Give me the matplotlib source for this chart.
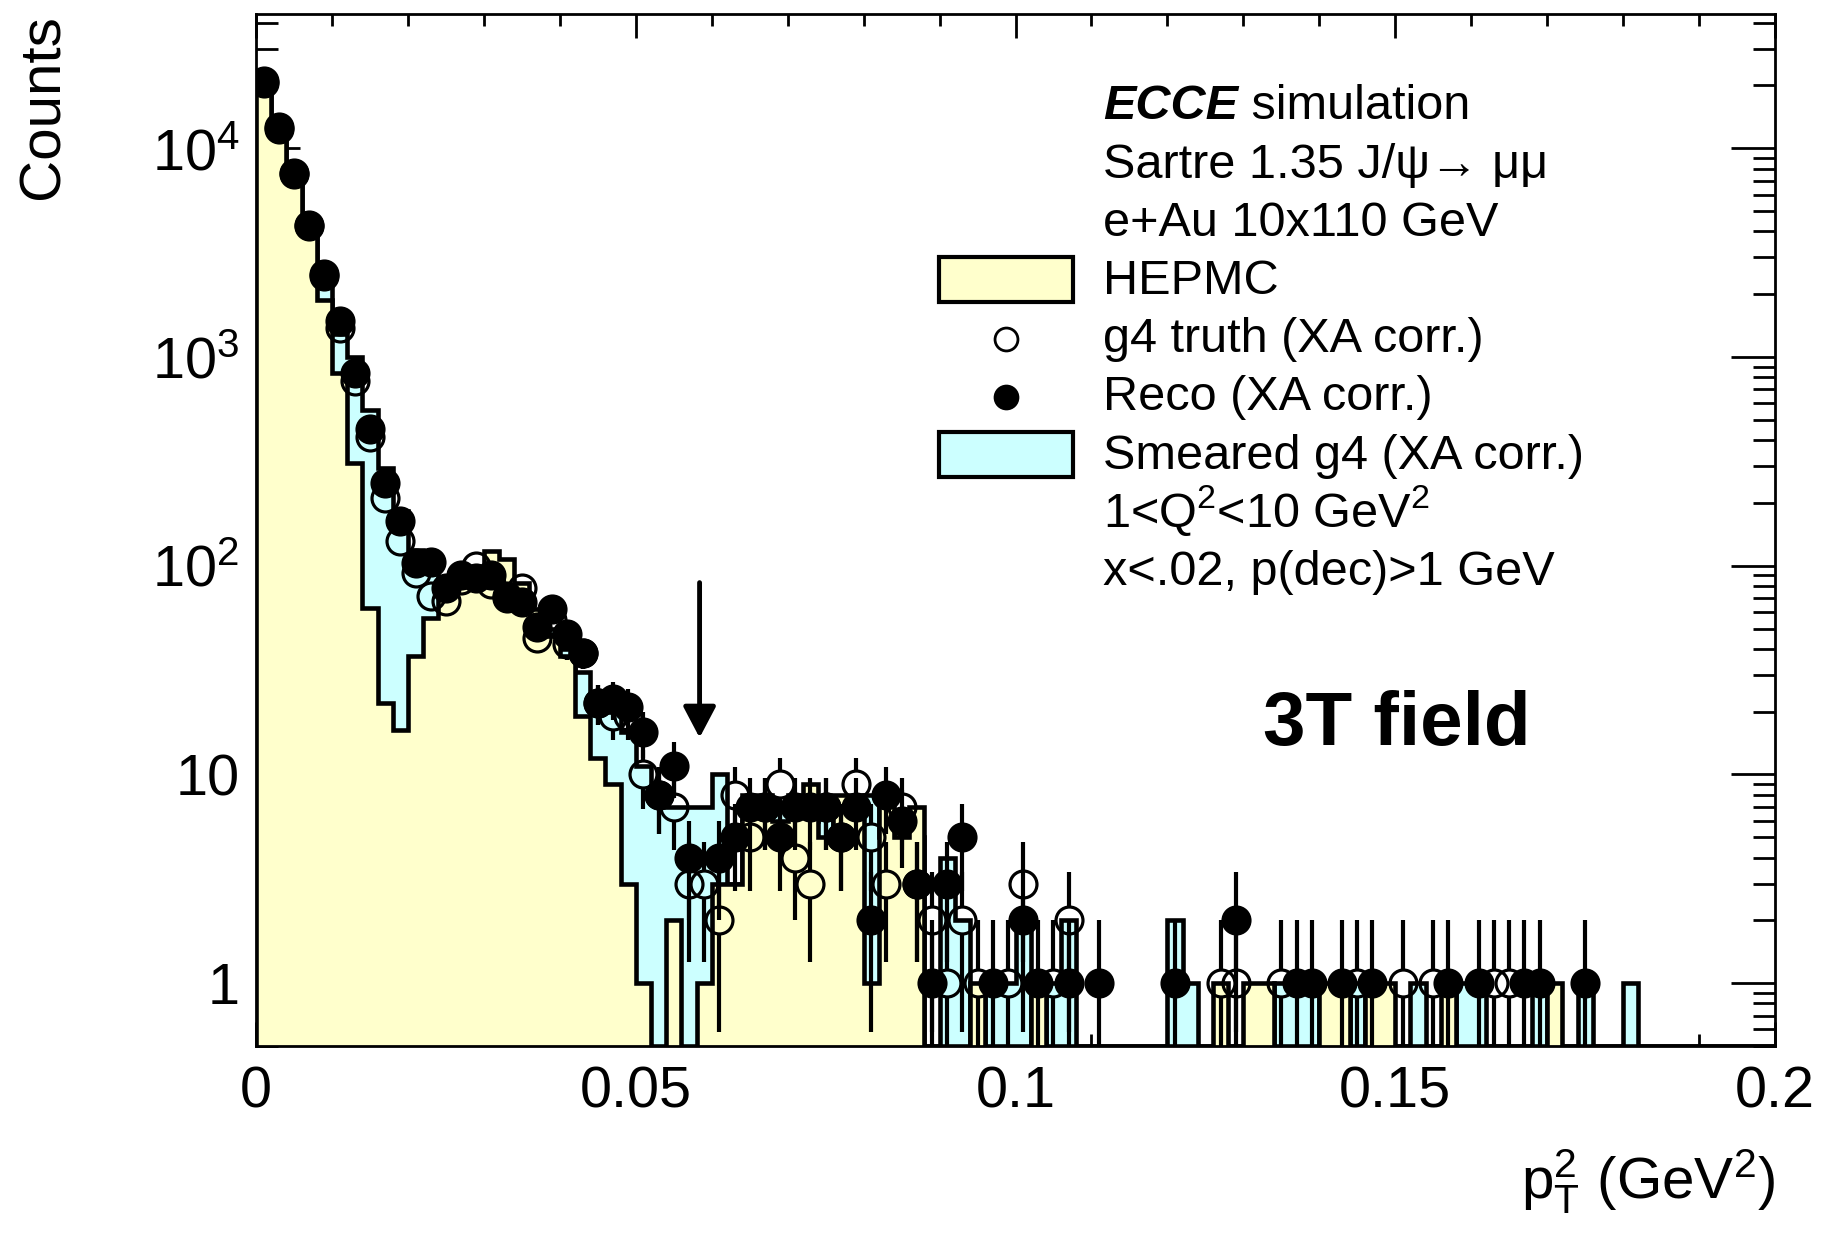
"""
plot.py

Recreate the ECCE J/psi pT^2 distribution (HEPMC / g4 truth / reco / smeared).
"""

import numpy as np
import matplotlib
matplotlib.use("Agg")
import matplotlib.pyplot as plt
from matplotlib.patches import Rectangle
from matplotlib.ticker import (FixedLocator, FixedFormatter, MultipleLocator,
                               LogLocator, NullFormatter)

plt.rcParams["font.family"] = ["Liberation Sans", "DejaVu Sans"]
plt.rcParams["mathtext.fontset"] = "custom"
plt.rcParams["mathtext.rm"] = "Liberation Sans"
plt.rcParams["mathtext.it"] = "Liberation Sans:italic"
plt.rcParams["mathtext.bf"] = "Liberation Sans:bold"

# 100 bins of 0.002 GeV^2 from 0 to 0.2
BIN_EDGES = np.linspace(0.0, 0.2, 101)

hepmc = [
    21500, 12500, 7600, 4300, 1870, 835, 310, 63, 22, 16.4,
    37, 56, 72, 85, 95, 118, 108, 83, 62, 46,
    37, 19, 12, 9, 3, 1, 0, 2, 0, 1,
    3, 3, 8, 8, 6, 8, 9, 5, 8, 8,
    1, 8, 5, 7, 0, 0, 0, 1, 0, 0,
    0, 1, 0, 0, 0, 0, 0, 0, 0, 0,
    0, 0, 0, 1, 0, 1, 1, 0, 0, 0,
    1, 1, 0, 1, 1, 0, 0, 0, 1, 0,
    0, 0, 0, 0, 0, 1, 0, 0, 0, 0,
    0, 0, 0, 0, 0, 0, 0, 0, 0, 0,
]

smeared_g4 = [
    21000, 12500, 7600, 4300, 2200, 1290, 1000, 560, 295, 182,
    119, 97, 80, 82, 80, 80, 75, 70, 58, 50,
    40, 31, 22, 20, 16, 11, 8, 7, 7, 7,
    10, 3, 6, 6, 7, 5, 6, 7, 5, 7,
    8, 5, 6, 5, 0, 4, 2, 0, 1, 1,
    2, 0, 1, 2, 0, 0, 0, 0, 0, 0,
    2, 1, 0, 0, 0, 0, 0, 1, 1, 1,
    0, 0, 1, 0, 0, 0, 1, 0, 0, 1,
    1, 0, 0, 0, 1, 0, 0, 1, 0, 0,
    1, 0, 0, 0, 0, 0, 0, 0, 0, 0,
]

g4_truth = [
    20500, 12400, 7500, 4250, 2450, 1380, 770, 412, 212, 132,
    92, 72, 68, 85, 100, 82, 72, 78, 45, 55,
    42, 38, 22, 19, 19, 10, 8, 7, 3, 3,
    2, 8, 5, 7, 9, 4, 3, 7, 5, 9,
    5, 3, 7, 3, 2, 1, 2, 1, 0, 1,
    3, 0, 1, 2, 0, 0, 0, 0, 0, 0,
    0, 0, 0, 1, 1, 0, 0, 1, 0, 0,
    0, 0, 1, 0, 0, 1, 0, 1, 0, 0,
    0, 1, 1, 0, 0, 0, 0, 0, 0, 0,
    0, 0, 0, 0, 0, 0, 0, 0, 0, 0,
]

reco = [
    21000, 12700, 7600, 4300, 2500, 1480, 840, 450, 250, 164,
    103, 104, 78, 90, 87, 90, 70, 67, 51, 62,
    47, 38, 22, 23, 21, 16, 8, 11, 4, 0,
    4, 5, 7, 7, 5, 7, 7, 7, 5, 7,
    2, 8, 6, 3, 1, 3, 5, 0, 1, 0,
    2, 1, 0, 1, 0, 1, 0, 0, 0, 0,
    1, 0, 0, 0, 2, 0, 0, 0, 1, 1,
    0, 1, 0, 1, 0, 0, 0, 0, 1, 0,
    1, 0, 0, 1, 1, 0, 0, 1, 0, 0,
    0, 0, 0, 0, 0, 0, 0, 0, 0, 0,
]

x_ticks = [0.0, 0.05, 0.1, 0.15, 0.2]
x_tick_labels = ["0", "0.05", "0.1", "0.15", "0.2"]
y_ticks = [1, 10, 100, 1000, 10000]
y_tick_labels = ["1", "10", "$10^{2}$", "$10^{3}$", "$10^{4}$"]

legend_lines = [
    None,  # ECCE simulation, drawn separately
    "Sartre 1.35 J/\u03c8\u2192 \u03bc\u03bc",
    "e+Au 10x110 GeV",
    "HEPMC",
    "g4 truth (XA corr.)",
    "Reco (XA corr.)",
    "Smeared g4 (XA corr.)",
    "1<Q$^{2}$<10 GeV$^{2}$",
    "x<.02, p(dec)>1 GeV",
]

# cut marker
ARROW_X = 0.0584
ARROW_TAIL = 83
ARROW_TIP = 15

YMIN, YMAX = 0.5, 4.4e4
YELLOW = "#ffffcc"
CYAN = "#ccffff"
MARKER_SIZE = 19.4


def draw_hist(ax, values, color, z):
    vals = np.asarray(values, float)
    fill_vals = np.where(vals > 0, vals, 1e-3)
    line_vals = np.where(vals > 0, vals, YMIN)
    ax.stairs(fill_vals, BIN_EDGES, baseline=1e-3, fill=True,
              color=color, lw=0, zorder=z)
    ax.stairs(line_vals, BIN_EDGES, baseline=YMIN, fill=False,
              color="black", lw=3.3, zorder=z + 0.05)


def draw_points(ax, values, filled, gap, z):
    centers = 0.5 * (BIN_EDGES[:-1] + BIN_EDGES[1:])
    vals = np.asarray(values, float)
    mask = vals > 0
    x = centers[mask]
    v = vals[mask]
    err = np.sqrt(v)
    hi = v + err
    lo = np.clip(v - err, 1e-3, None)

    # error bars stop at the marker edge, as ROOT draws them
    up0 = v * gap
    dn1 = v / gap
    keep = hi > up0
    ax.vlines(x[keep], up0[keep], hi[keep], color="black", lw=3.0, zorder=z)
    keep = lo < dn1
    ax.vlines(x[keep], lo[keep], dn1[keep], color="black", lw=3.0, zorder=z)

    ax.plot(x, v, "o", ms=MARKER_SIZE,
            mfc="black" if filled else "none",
            mec="black", mew=2.3, zorder=z + 0.05)


def draw_legend(ax, fig):
    x_text = 0.5575
    row_y = [(1046 - (102.4 + 58.2 * k + 17)) / 1032 for k in range(9)]

    ecce = ax.text(x_text, row_y[0], "ECCE", transform=ax.transAxes,
                   fontsize=35, fontweight="bold", fontstyle="italic",
                   va="baseline", ha="left", zorder=6)
    ax.annotate(" simulation", xy=(1, 0), xycoords=ecce, fontsize=35,
                va="bottom", ha="left", zorder=6)

    for k, line in enumerate(legend_lines):
        if line is None:
            continue
        ax.text(x_text, row_y[k], line, transform=ax.transAxes,
                fontsize=35, va="baseline", ha="left", zorder=6)

    box_w, box_h = 0.0883, 0.0436
    box_x = 0.4493
    for k, color in [(3, YELLOW), (6, CYAN)]:
        yc = (1046 - (102.4 + 58.2 * k + 3)) / 1032
        ax.add_patch(Rectangle((box_x, yc - box_h / 2), box_w, box_h,
                               transform=ax.transAxes, facecolor=color,
                               edgecolor="black", lw=3.0, clip_on=False,
                               zorder=6))

    for k, filled in [(4, False), (5, True)]:
        yc = (1046 - (102.4 + 58.2 * k + 4)) / 1032
        ax.plot([0.494], [yc], "o", ms=16.5, transform=ax.transAxes,
                mfc="black" if filled else "none", mec="black", mew=2.0,
                clip_on=False, zorder=6)


def main():
    fig = plt.figure(figsize=(18.25, 12.36), dpi=100)
    ax = fig.add_axes([0.1403, 0.1537, 0.8323, 0.8350])

    ax.set_yscale("log")
    ax.set_xlim(0.0, 0.2)
    ax.set_ylim(YMIN, YMAX)
    # ROOT paints the filled histograms over the tick marks
    ax.set_axisbelow(True)

    draw_hist(ax, smeared_g4, CYAN, 1.0)
    draw_hist(ax, hepmc, YELLOW, 1.2)

    # gap between marker centre and error bar start, in data units
    ax_h_px = fig.get_figheight() * fig.dpi * ax.get_position().height
    px_per_decade = ax_h_px / np.log10(YMAX / YMIN)
    radius_px = MARKER_SIZE * fig.dpi / 72.0 / 2.0
    gap = 10 ** (radius_px / px_per_decade)

    draw_points(ax, g4_truth, False, gap, 3.0)
    draw_points(ax, reco, True, gap, 3.2)

    ax.annotate("", xy=(ARROW_X, ARROW_TIP), xytext=(ARROW_X, ARROW_TAIL),
                arrowprops=dict(arrowstyle="-|>,head_length=0.95,head_width=0.5",
                                color="black", lw=3.5, mutation_scale=20,
                                shrinkA=0, shrinkB=0),
                zorder=5)

    ax.text(0.7507, 0.2917, "3T field", transform=ax.transAxes,
            fontsize=55, fontweight="bold", ha="center", va="baseline",
            zorder=6)

    draw_legend(ax, fig)

    # axes styling in ROOT fashion
    ax.xaxis.set_major_locator(FixedLocator(x_ticks))
    ax.xaxis.set_major_formatter(FixedFormatter(x_tick_labels))
    ax.xaxis.set_minor_locator(MultipleLocator(0.01))
    ax.yaxis.set_major_locator(FixedLocator(y_ticks))
    ax.yaxis.set_major_formatter(FixedFormatter(y_tick_labels))
    ax.yaxis.set_minor_locator(LogLocator(base=10, subs=np.arange(2, 10)))
    ax.yaxis.set_minor_formatter(NullFormatter())

    ax.tick_params(which="both", direction="in", top=True, right=True,
                   width=2.0, labelsize=41.5)
    ax.tick_params(axis="x", which="major", length=17, pad=14)
    ax.tick_params(axis="x", which="minor", length=8.6)
    ax.tick_params(axis="y", which="major", length=32, pad=12)
    ax.tick_params(axis="y", which="minor", length=16)
    for spine in ax.spines.values():
        spine.set_linewidth(2.0)
        spine.set_zorder(4)

    fig.text(1775 / 1825, 0.0299, r"p$_{\mathrm{T}}^{2}$ (GeV$^{2}$)",
             fontsize=42, ha="right", va="baseline")
    fig.text(44 / 1825, 0.9887, "Counts", fontsize=42, rotation=90,
             ha="center", va="top")

    fig.savefig("out.png", dpi=100)
    plt.close(fig)


if __name__ == "__main__":
    main()
